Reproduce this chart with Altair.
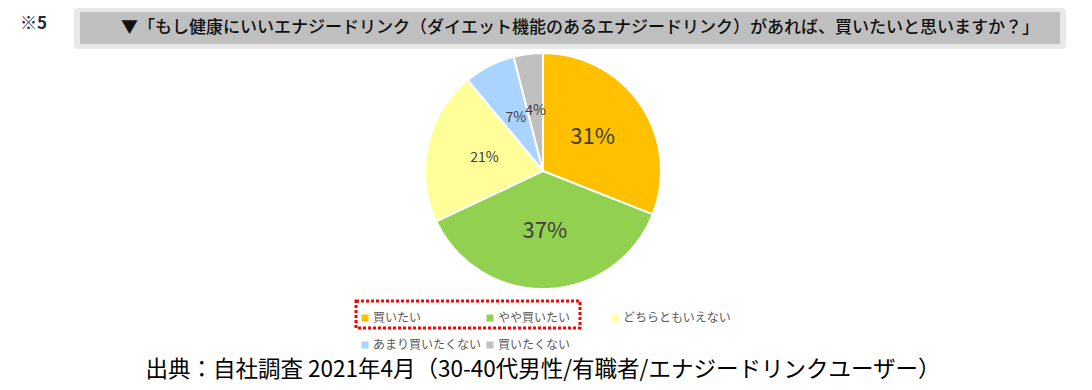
import altair as alt
import pandas as pd

categories = ["買いたい", "やや買いたい", "どちらともいえない", "あまり買いたくない", "買いたくない"]
values = [31, 37, 21, 7, 4]
colors = ["#FFC000", "#92D050", "#FFFF99", "#A9D4FF", "#BFBFBF"]
label_sizes = [22, 22, 14, 14, 14]

title_text = "▼「もし健康にいいエナジードリンク（ダイエット機能のあるエナジードリンク）があれば、買いたいと思いますか？」"
note_text = "※5"
source_text = "出典：自社調査 2021年4月（30-40代男性/有職者/エナジードリンクユーザー）"

df = pd.DataFrame({
    "cat": categories,
    "value": values,
    "idx": list(range(len(categories))),
    "label": [f"{v}%" for v in values],
    "fs": label_sizes,
})

W, H = 1076, 374
CX, CY = 535, 163
FONT = "Noto Sans CJK JP"

# legend layout parameters
LEG_X0, LEG_Y0, LEG_DX, LEG_DY, LEG_COLS = 357, 310, 125, 27, 3

base = alt.Chart(df)

color_scale = alt.Scale(domain=categories, range=colors)

pie = base.mark_arc(outerRadius=118, stroke="white", strokeWidth=2).encode(
    theta=alt.Theta("value:Q", stack=True),
    color=alt.Color("cat:N", scale=color_scale, sort=categories, legend=None),
    order=alt.Order("idx:Q"),
    x=alt.value(CX), y=alt.value(CY),
)

labels = base.mark_text(font=FONT, color="#404040").encode(
    theta=alt.Theta("value:Q", stack=True),
    radius=alt.value(60),
    text="label:N",
    size=alt.Size("fs:Q", scale=None, legend=None),
    order=alt.Order("idx:Q"),
    x=alt.value(CX), y=alt.value(CY),
)

leg_base = base.transform_calculate(
    lx=f"{LEG_X0} + (datum.idx % {LEG_COLS}) * {LEG_DX}",
    ly=f"{LEG_Y0} + floor(datum.idx / {LEG_COLS}) * {LEG_DY}",
    tx=f"{LEG_X0 + 8} + (datum.idx % {LEG_COLS}) * {LEG_DX}",
)
leg_sym = leg_base.mark_square(size=49, opacity=1).encode(
    x=alt.X("lx:Q", scale=None),
    y=alt.Y("ly:Q", scale=None),
    color=alt.Color("cat:N", scale=color_scale, sort=categories, legend=None),
)
leg_txt = leg_base.mark_text(font=FONT, fontSize=12, color="#595959", align="left", baseline="middle").encode(
    x=alt.X("tx:Q", scale=None),
    y=alt.Y("ly:Q", scale=None),
    text="cat:N",
)

one = alt.Chart(pd.DataFrame({"a": [0]}))

bar_glow = one.mark_rect(color="#D9D9D9", opacity=0.6, cornerRadius=4).encode(
    x=alt.value(66), x2=alt.value(1058), y=alt.value(0), y2=alt.value(41)
)
bar = one.mark_rect(color="#BFBFBF").encode(
    x=alt.value(72), x2=alt.value(1052), y=alt.value(4), y2=alt.value(36)
)
title = one.mark_text(font=FONT, fontSize=17, fontWeight=500, color="#111111", align="center", baseline="middle").encode(
    x=alt.value(572), y=alt.value(20), text=alt.value(title_text)
)
note = one.mark_text(font=FONT, fontSize=17, fontWeight="bold", color="#1F2A44", align="left", baseline="middle").encode(
    x=alt.value(12), y=alt.value(16), text=alt.value(note_text)
)
redbox = one.mark_rect(fill=None, stroke="#FF0000", strokeWidth=3, strokeDash=[3, 2]).encode(
    x=alt.value(348), x2=alt.value(572), y=alt.value(293), y2=alt.value(320)
)
source = one.mark_text(font=FONT, fontSize=22.5, color="#000000", align="center", baseline="middle").encode(
    x=alt.value(535), y=alt.value(362), text=alt.value(source_text)
)

chart = alt.layer(bar_glow, bar, title, note, pie, labels, leg_sym, leg_txt, redbox, source).properties(
    width=W, height=H, autosize=alt.AutoSizeParams(type="none"), padding=0,
    background="white",
).configure_view(stroke=None)

chart.save("out.html", embed_options={"renderer": "svg", "actions": False})
